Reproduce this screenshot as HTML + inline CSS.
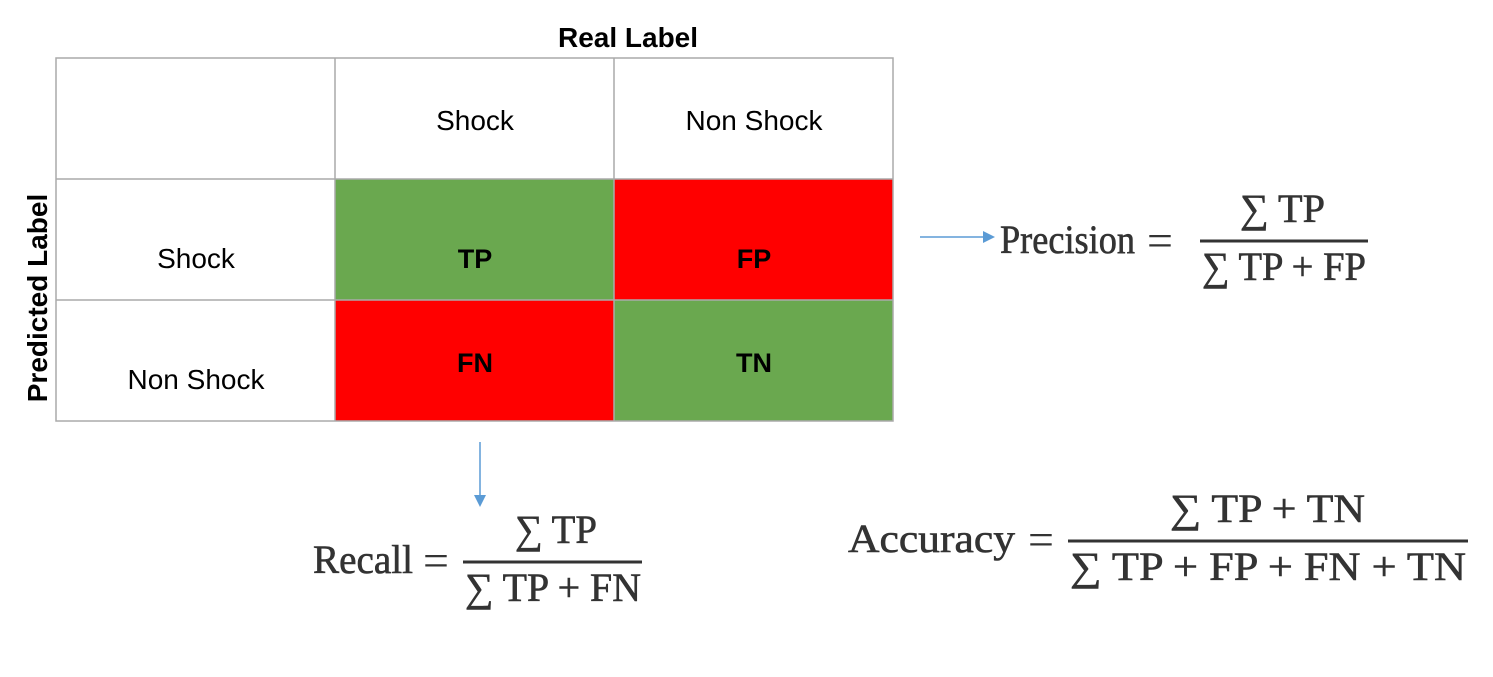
<!DOCTYPE html>
<html><head><meta charset="utf-8"><style>
html,body{margin:0;padding:0;background:#fff;}
svg{display:block}
.s{font-family:"Liberation Sans",sans-serif;}
.f{font-family:"Liberation Serif",serif;fill:#333;font-size:40px;stroke:#333;stroke-width:0.6;}
.eq{font-family:"Liberation Serif",serif;fill:#333;font-size:46px;}
</style></head><body>
<svg width="1493" height="677" viewBox="0 0 1493 677">
<defs><marker id="ah" markerWidth="8" markerHeight="8" refX="6" refY="4" orient="auto"><path d="M0,0 L8,4 L0,8z" fill="#5b9bd5"/></marker></defs>
<g>
<rect x="335" y="179" width="279" height="121" fill="#6aa84f"/>
<rect x="614" y="179" width="279" height="121" fill="#ff0000"/>
<rect x="335" y="300" width="279" height="121" fill="#ff0000"/>
<rect x="614" y="300" width="279" height="121" fill="#6aa84f"/>
</g>
<g stroke="#aaaaaa" stroke-width="1.5" fill="none">
<rect x="56" y="58" width="837" height="363"/>
<line x1="335" y1="58" x2="335" y2="421"/><line x1="614" y1="58" x2="614" y2="421"/>
<line x1="56" y1="179" x2="893" y2="179"/><line x1="56" y1="300" x2="893" y2="300"/>
</g>
<text class="s" x="628" y="47" font-size="28" font-weight="bold" text-anchor="middle">Real Label</text>
<text class="s" transform="translate(47,298) rotate(-90)" font-size="28" font-weight="bold" text-anchor="middle">Predicted Label</text>
<text class="s" x="475" y="130" font-size="28" text-anchor="middle">Shock</text>
<text class="s" x="754" y="130" font-size="28" text-anchor="middle">Non Shock</text>
<text class="s" x="196" y="268" font-size="28" text-anchor="middle">Shock</text>
<text class="s" x="196" y="389" font-size="28" text-anchor="middle">Non Shock</text>
<text class="s" x="475" y="268" font-size="27" font-weight="bold" text-anchor="middle">TP</text>
<text class="s" x="754" y="268" font-size="27" font-weight="bold" text-anchor="middle">FP</text>
<text class="s" x="475" y="372" font-size="27" font-weight="bold" text-anchor="middle">FN</text>
<text class="s" x="754" y="372" font-size="27" font-weight="bold" text-anchor="middle">TN</text>
<line x1="920" y1="237" x2="992" y2="237" stroke="#5b9bd5" stroke-width="1.5" marker-end="url(#ah)"/>
<line x1="480" y1="442" x2="480" y2="504" stroke="#5b9bd5" stroke-width="1.5" marker-end="url(#ah)"/>
<g>
<text class="f" x="1000" y="253" textLength="135" lengthAdjust="spacingAndGlyphs">Precision</text>
<text class="eq" x="1147" y="256">=</text>
<line x1="1200" y1="241" x2="1368" y2="241" stroke="#333" stroke-width="3"/>
<text class="f" x="1240" y="222" textLength="85" lengthAdjust="spacingAndGlyphs">∑ TP</text>
<text class="f" x="1202" y="280" textLength="164" lengthAdjust="spacingAndGlyphs">∑ TP + FP</text>
</g>
<g>
<text class="f" x="313" y="573" textLength="100" lengthAdjust="spacingAndGlyphs">Recall</text>
<text class="eq" x="423" y="576">=</text>
<line x1="463" y1="562" x2="642" y2="562" stroke="#333" stroke-width="3"/>
<text class="f" x="515" y="543" textLength="82" lengthAdjust="spacingAndGlyphs">∑ TP</text>
<text class="f" x="465" y="601" textLength="176" lengthAdjust="spacingAndGlyphs">∑ TP + FN</text>
</g>
<g>
<text class="f" x="848" y="552" textLength="167" lengthAdjust="spacingAndGlyphs">Accuracy</text>
<text class="eq" x="1028" y="555">=</text>
<line x1="1068" y1="541" x2="1468" y2="541" stroke="#333" stroke-width="3"/>
<text class="f" x="1170" y="522" textLength="195" lengthAdjust="spacingAndGlyphs">∑ TP + TN</text>
<text class="f" x="1070" y="580" textLength="396" lengthAdjust="spacingAndGlyphs">∑ TP + FP + FN + TN</text>
</g>
</svg>
</body></html>
